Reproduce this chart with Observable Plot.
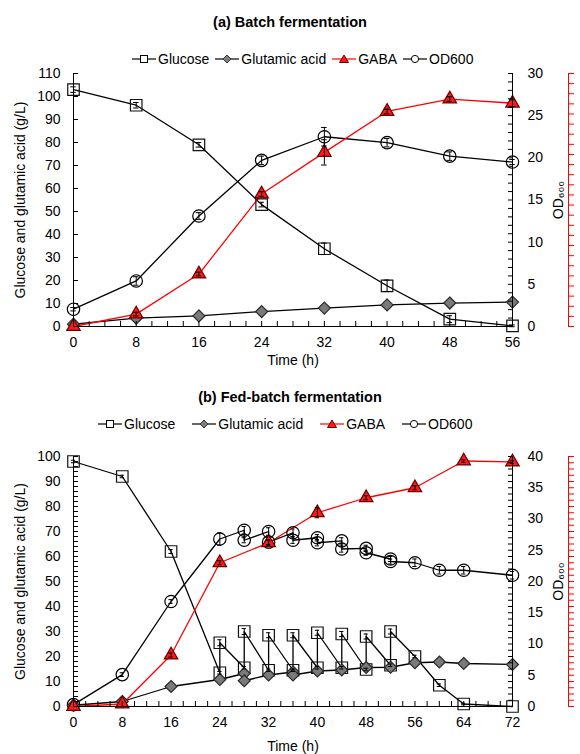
<!DOCTYPE html>
<html><head><meta charset="utf-8">
<script src="https://cdn.jsdelivr.net/npm/d3@7"></script>
<script src="https://cdn.jsdelivr.net/npm/@observablehq/plot@0.6"></script>
<style>
body{margin:0;background:#fff;font-family:"Liberation Sans",Arial,sans-serif;color:#000}
#root{position:relative;width:580px;height:754px;overflow:hidden;background:#fff}
.title{position:absolute;left:0;width:580px;text-align:center;font-weight:bold;font-size:14.5px;line-height:18px}
.legend{position:absolute;display:flex;align-items:center;font-size:14px;line-height:16px;white-space:nowrap}
.item{display:flex;align-items:center}
.item svg{margin-right:2px}
.wrap{position:absolute;left:0}
</style></head><body><div id="root"></div><script>
// ---------- (a) Batch fermentation ----------
const timeA = [0, 8, 16, 24, 32, 40, 48, 56];
const glucoseA = [103, 96.2, 79, 53, 33.8, 17.7, 3.2, 0.3];
const glucoseAErr = [1.2, 1.2, 1, 1, 2.5, 2.5, 1.5, 0.4];
const glutamicA = [1, 3.6, 4.6, 6.5, 8, 9.4, 10.2, 10.6];
const gabaA = [0, 5.4, 22.8, 57.6, 75.7, 93.5, 98.9, 97.1];
const gabaAErr = [0, 0.8, 0.8, 1, 5.5, 1, 1, 1.5];
const odA = [2.05, 5.4, 13.1, 19.7, 22.5, 21.8, 20.2, 19.5];
const odAErr = [0.2, 0.5, 0.4, 0.5, 1.1, 0.5, 0.5, 0.3];
const leftTicksA = [0, 10, 20, 30, 40, 50, 60, 70, 80, 90, 100, 110];
const odTicksA = [0, 5, 10, 15, 20, 25, 30];
const xTicksA = [0, 8, 16, 24, 32, 40, 48, 56];

// ---------- (b) Fed-batch fermentation ----------
const timeGlcB = [0, 8, 16, 24, 24, 28, 28, 32, 32, 36, 36, 40, 40, 44, 44, 48, 48, 52, 52, 56, 60, 64, 72];
const glucoseB = [98, 92, 62, 13.5, 25.5, 15.5, 30, 14.5, 28.5, 14.5, 28.5, 15.5, 29.5, 15.5, 29, 14.8, 28, 16.5, 30, 20, 8.5, 1, 0];
const glucoseBErr = [0.5, 0.5, 0.8, 0.5, 1.2, 0.5, 1.2, 0.5, 1, 0.5, 1, 0.5, 1, 0.5, 1, 0.5, 1, 0.5, 1, 0.5, 0.5, 0.3, 0];
const timeGluB = [0, 8, 16, 24, 28, 28, 32, 36, 36, 40, 44, 48, 52, 56, 60, 64, 72];
const glutamicB = [0.5, 2, 8, 10.8, 13.2, 10.3, 12.6, 13.8, 12.6, 14.2, 14.6, 15.6, 15.7, 17.5, 17.8, 17.2, 16.8];
const timeGabaB = [0, 8, 16, 24, 32, 40, 48, 56, 64, 72];
const gabaB = [0, 1, 20.6, 57.5, 65.5, 77.5, 83.5, 87.5, 98.2, 97.8];
const gabaBErr = [0, 0, 0.8, 0.8, 1, 2, 0.8, 0.8, 0.5, 0.5];
const timeOdB = [0, 8, 16, 24, 28, 28, 32, 32, 36, 36, 40, 40, 44, 44, 48, 48, 52, 52, 56, 60, 64, 72];
const odB = [0.3, 5.1, 16.8, 26.8, 28.2, 26.6, 28.0, 26.3, 27.8, 26.6, 27.0, 26.2, 26.5, 25.2, 25.3, 24.6, 23.6, 23.2, 23.0, 21.8, 21.8, 21.0];
const odBErr = [0, 0.3, 0.3, 1.0, 0.6, 0.4, 0.6, 0.4, 0.6, 0.5, 0.5, 0.5, 0.5, 0.5, 0.5, 0.4, 0.4, 0.4, 0.6, 0.6, 0.6, 0.6];
const leftTicksB = [0, 10, 20, 30, 40, 50, 60, 70, 80, 90, 100];
const odTicksB = [0, 5, 10, 15, 20, 25, 30, 35, 40];
const xTicksB = [0, 8, 16, 24, 32, 40, 48, 56, 64, 72];

const legendNames = ["Glucose", "Glutamic acid", "GABA", "OD600"];

const root = document.getElementById("root");

function rows(t, v, e, k = 1) {
  return t.map((x, i) => ({x, y: v[i] * k, e: (e ? e[i] : 0) * k}));
}

function addTitle(text, top) {
  const d = document.createElement("div");
  d.className = "title"; d.textContent = text; d.style.top = top + "px";
  root.appendChild(d);
}

const swatches = [
  '<line x1="0" x2="24" y1="7" y2="7" stroke="#000" stroke-width="1.2"/><rect x="8.5" y="3.5" width="7" height="7" fill="#fff" stroke="#000"/>',
  '<line x1="0" x2="24" y1="7" y2="7" stroke="#000" stroke-width="1.2"/><path d="M12,3 L16,7 L12,11 L8,7Z" fill="#7f7f7f" stroke="#333"/>',
  '<line x1="0" x2="24" y1="7" y2="7" stroke="#ff0000" stroke-width="1.2"/><path d="M12,3 L16.5,10.5 L7.5,10.5Z" fill="#ff1a1a" stroke="#700"/>',
  '<line x1="0" x2="24" y1="7" y2="7" stroke="#000" stroke-width="1.2"/><circle cx="12" cy="7" r="3.6" fill="#fff" stroke="#000"/>'
];

function addLegend(left, top, gap) {
  const d = document.createElement("div");
  d.className = "legend"; d.style.left = left + "px"; d.style.top = top + "px";
  legendNames.forEach((n, i) => {
    const it = document.createElement("span");
    it.className = "item";
    if (i > 0) it.style.marginLeft = gap + "px";
    it.innerHTML = `<svg width="24" height="14">${swatches[i]}</svg><span>${n}</span>`;
    d.appendChild(it);
  });
  root.appendChild(d);
}

function makeChart(cfg) {
  const {glc, glu, gaba, od, yMax, leftTicks, leftMinorStep, odTicks, odMax, k, xMax, xTicks, redCount,
         height, marginTop, marginBottom, xLabelOffset} = cfg;
  const leftAll = d3.range(0, yMax + 0.001, leftMinorStep);
  const leftSet = new Set(leftTicks);
  const odAll = d3.range(0, odMax + 0.001, 1).map(v => v * k);
  const odSet = new Set(odTicks);
  const xAll = d3.range(0, xMax + 0.001, 2);
  const xSet = new Set(xTicks);
  const redAll = d3.range(redCount + 1).map(i => i * yMax / redCount);

  const series = [
    {data: od, symbol: "circle", r: 6.2, fill: "none", stroke: "#000", line: "#000"},
    {data: glc, symbol: "square", r: 6.5, fill: "none", stroke: "#111", line: "#000"},
    {data: glu, symbol: "diamond2", r: 5.4, fill: "#7a7a7a", stroke: "#2a2a2a", line: "#000"},
    {data: gaba, symbol: "triangle", r: 5.0, fill: "#ff1a1a", stroke: "#6a0000", line: "#ff0000"}
  ];
  const marks = [];
  for (const s of series) marks.push(Plot.line(s.data, {x: "x", y: "y", stroke: s.line, strokeWidth: 1.3}));
  for (const s of series) marks.push(Plot.dot(s.data, {x: "x", y: "y", symbol: s.symbol, r: s.r, fill: s.fill, stroke: s.stroke, strokeWidth: 1.2}));
  for (const s of series) {
    const eb = s.data.filter(d => d.e > 0);
    marks.push(Plot.ruleX(eb, {x: "x", y1: d => d.y - d.e, y2: d => d.y + d.e, stroke: "#000", strokeWidth: 1}));
    marks.push(Plot.ruleY(eb, {y: d => d.y + d.e, x1: d => d.x - 0.35, x2: d => d.x + 0.35, stroke: "#000", strokeWidth: 1}));
    marks.push(Plot.ruleY(eb, {y: d => d.y - d.e, x1: d => d.x - 0.35, x2: d => d.x + 0.35, stroke: "#000", strokeWidth: 1}));
  }
  marks.push(
    Plot.frame({anchor: "left", stroke: "#000"}),
    Plot.frame({anchor: "right", stroke: "#000"}),
    Plot.frame({anchor: "bottom", stroke: "#000"}),
    Plot.frame({anchor: "right", dx: 56, stroke: "#ff0000"}),
    Plot.axisY(redAll, {anchor: "right", dx: 56, stroke: "#ff0000", tickSize: 5, tickFormat: () => "", label: null}),
    Plot.axisY(leftAll, {anchor: "left", tickSize: -5, tickPadding: 18, fontSize: 14,
      tickFormat: d => leftSet.has(Math.round(d * 1000) / 1000) ? d : "",
      label: "Glucose and glutamic acid (g/L)", labelArrow: "none", labelAnchor: "center", labelOffset: 58}),
    Plot.axisY(odAll, {anchor: "right", tickSize: -5, tickPadding: 20, fontSize: 14,
      tickFormat: d => { const v = Math.round(d / k); return odSet.has(v) && Math.abs(d / k - v) < 1e-6 ? v : ""; },
      label: "OD\u2086\u2080\u2080", labelArrow: "none", labelAnchor: "center", labelOffset: 50}),
    Plot.axisX(xAll, {anchor: "bottom", tickSize: -5, tickPadding: 16, fontSize: 14,
      tickFormat: d => xSet.has(d) ? d : "",
      label: "Time (h)", labelArrow: "none", labelAnchor: "center", labelOffset: xLabelOffset})
  );
  return Plot.plot({
    width: 580, height, marginLeft: 73, marginRight: 68, marginTop, marginBottom,
    x: {domain: [0, xMax]},
    y: {domain: [0, yMax]},
    style: {fontFamily: "'Liberation Sans', Arial, sans-serif", fontSize: "14px", color: "#000", background: "transparent", overflow: "visible"},
    marks
  });
}

const kA = 110 / 30, kB = 100 / 40;

addTitle("(a) Batch fermentation", 13);
addLegend(132, 51, 6);
const wa = document.createElement("div"); wa.className = "wrap"; wa.style.top = "62px";
wa.appendChild(makeChart({
  glc: rows(timeA, glucoseA, glucoseAErr), glu: rows(timeA, glutamicA), gaba: rows(timeA, gabaA, gabaAErr), od: rows(timeA, odA, odAErr, kA),
  yMax: 110, leftTicks: leftTicksA, leftMinorStep: 10, odTicks: odTicksA, odMax: 30, k: kA, xMax: 56, xTicks: xTicksA, redCount: 25,
  height: 310, marginTop: 11, marginBottom: 46, xLabelOffset: 38
}));
root.appendChild(wa);

addTitle("(b) Fed-batch fermentation", 388);
addLegend(98, 416, 17);
const wb = document.createElement("div"); wb.className = "wrap"; wb.style.top = "444px";
wb.appendChild(makeChart({
  glc: rows(timeGlcB, glucoseB, glucoseBErr), glu: rows(timeGluB, glutamicB), gaba: rows(timeGabaB, gabaB, gabaBErr), od: rows(timeOdB, odB, odBErr, kB),
  yMax: 100, leftTicks: leftTicksB, leftMinorStep: 2, odTicks: odTicksB, odMax: 40, k: kB, xMax: 72, xTicks: xTicksB, redCount: 40,
  height: 310, marginTop: 12, marginBottom: 48, xLabelOffset: 44
}));
root.appendChild(wb);
</script></body></html>
